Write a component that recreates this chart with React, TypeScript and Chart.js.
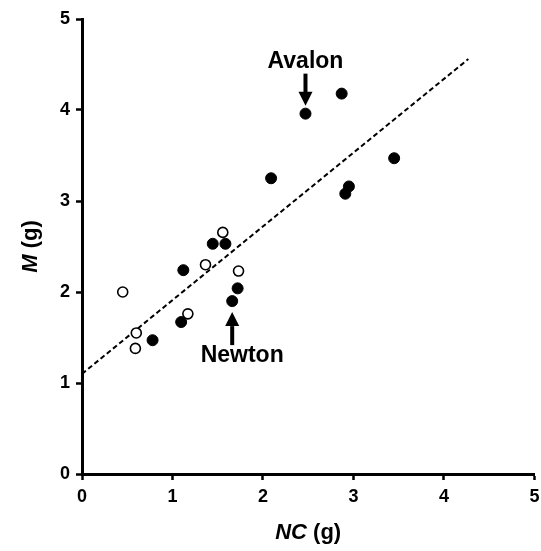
import React, { useEffect, useRef } from "react";
import { Chart, registerables } from "chart.js";

Chart.register(...registerables);

// Filled circles (NC, M)
const filledX = [2.47, 2.87, 3.45, 2.09, 2.95, 2.91, 1.445, 1.585, 1.12, 1.72, 1.66, 1.096, 0.78];
const filledY = [3.96, 4.18, 3.47, 3.25, 3.16, 3.08, 2.53, 2.53, 2.24, 2.04, 1.90, 1.67, 1.47];
// Open circles (NC, M)
const openX = [1.556, 1.365, 1.73, 0.45, 1.17, 0.60, 0.59];
const openY = [2.655, 2.30, 2.23, 2.0, 1.76, 1.55, 1.38];
// Regression line end points
const fitX = [0, 4.27];
const fitY = [1.1, 4.56];

const xTicks = [0, 1, 2, 3, 4, 5];
const yTicks = [0, 1, 2, 3, 4, 5];

const FONT = "'Liberation Sans', Arial, sans-serif";

function drawArrow(ctx: CanvasRenderingContext2D, x: number, yFrom: number, yTip: number) {
  const dir = yTip > yFrom ? 1 : -1;
  const headLen = 14;
  const headHalf = 7;
  const baseY = yTip - dir * headLen;
  ctx.save();
  ctx.fillStyle = "#000";
  ctx.fillRect(x - 2, Math.min(yFrom, baseY), 4, Math.abs(baseY - yFrom) + 1);
  ctx.beginPath();
  ctx.moveTo(x - headHalf, baseY);
  ctx.lineTo(x + headHalf, baseY);
  ctx.lineTo(x, yTip);
  ctx.closePath();
  ctx.fill();
  ctx.restore();
}

function drawMixed(ctx: CanvasRenderingContext2D, parts: { t: string; italic: boolean }[], size: number) {
  let total = 0;
  const widths = parts.map((p) => {
    ctx.font = `${p.italic ? "italic " : ""}bold ${size}px ${FONT}`;
    const w = ctx.measureText(p.t).width;
    total += w;
    return w;
  });
  let x = -total / 2;
  parts.forEach((p, i) => {
    ctx.font = `${p.italic ? "italic " : ""}bold ${size}px ${FONT}`;
    ctx.fillText(p.t, x, 0);
    x += widths[i];
  });
}

const annotationPlugin = {
  id: "annotations",
  afterDraw(chart: any) {
    const ctx: CanvasRenderingContext2D = chart.ctx;
    const xs = chart.scales.x;
    const ys = chart.scales.y;
    const area = chart.chartArea;
    ctx.save();
    ctx.fillStyle = "#000";
    ctx.textBaseline = "middle";
    ctx.textAlign = "left";

    // x title
    ctx.save();
    ctx.translate((area.left + area.right) / 2, 533);
    drawMixed(ctx, [{ t: "NC", italic: true }, { t: " (g)", italic: false }], 22);
    ctx.restore();

    // y title
    ctx.save();
    ctx.translate(31, (area.top + area.bottom) / 2);
    ctx.rotate(-Math.PI / 2);
    drawMixed(ctx, [{ t: "M", italic: true }, { t: " (g)", italic: false }], 22);
    ctx.restore();

    // Avalon
    const ax = xs.getPixelForValue(filledX[0]);
    const ay = ys.getPixelForValue(filledY[0]);
    ctx.font = `bold 23px ${FONT}`;
    ctx.textAlign = "center";
    ctx.textBaseline = "alphabetic";
    ctx.fillText("Avalon", ax, ay - 46);
    drawArrow(ctx, ax, ay - 40, ay - 8);

    // Newton
    const nx = xs.getPixelForValue(filledX[10]);
    const ny = ys.getPixelForValue(filledY[10]);
    ctx.fillText("Newton", nx + 10, ny + 61);
    drawArrow(ctx, nx, ny + 43, ny + 11);
    ctx.restore();
  },
};

export default function App() {
  const ref = useRef<HTMLCanvasElement>(null);
  useEffect(() => {
    if (!ref.current) return;
    const chart = new Chart(ref.current, {
      type: "scatter",
      data: {
        datasets: [
          {
            label: "filled",
            data: filledX.map((x, i) => ({ x, y: filledY[i] })),
            backgroundColor: "#000",
            borderColor: "#000",
            pointRadius: 5.5,
            borderWidth: 1,
            order: 1,
          },
          {
            label: "open",
            data: openX.map((x, i) => ({ x, y: openY[i] })),
            backgroundColor: "#fff",
            borderColor: "#000",
            pointRadius: 5,
            borderWidth: 1.6,
            order: 2,
          },
          {
            label: "fit",
            data: fitX.map((x, i) => ({ x, y: fitY[i] })),
            showLine: true,
            borderColor: "#000",
            borderWidth: 2,
            borderDash: [5, 3],
            pointRadius: 0,
            order: 3,
          } as any,
        ],
      },
      options: {
        responsive: false,
        animation: false,
        layout: { padding: { left: 0, top: 19, right: 6, bottom: 0 } },
        plugins: { legend: { display: false }, tooltip: { enabled: false } },
        scales: {
          x: {
            type: "linear",
            min: 0,
            max: 5,
            afterBuildTicks: (s: any) => {
              s.ticks = xTicks.map((v) => ({ value: v }));
            },
            afterFit: (s: any) => {
              s.height = 77;
              s.paddingLeft = 0;
              s.paddingRight = 0;
            },
            ticks: {
              color: "#000",
              font: { family: FONT, weight: "bold", size: 18 },
              padding: 6,
            },
            grid: { drawOnChartArea: false, tickLength: 6, tickWidth: 2.5, color: "#000" },
            border: { width: 3, color: "#000" },
          },
          y: {
            type: "linear",
            min: 0,
            max: 5,
            afterBuildTicks: (s: any) => {
              s.ticks = yTicks.map((v) => ({ value: v }));
            },
            afterFit: (s: any) => {
              s.width = 82;
              s.paddingTop = 0;
              s.paddingBottom = 0;
            },
            ticks: {
              color: "#000",
              font: { family: FONT, weight: "bold", size: 18 },
              padding: 6,
            },
            grid: { drawOnChartArea: false, tickLength: 6, tickWidth: 2.5, color: "#000" },
            border: { width: 3, color: "#000" },
          },
        },
      },
      plugins: [annotationPlugin],
    });
    return () => chart.destroy();
  }, []);
  return (
    <div style={{ position: "absolute", left: 0, top: 0, width: 541, height: 551, background: "#fff" }}>
      <canvas ref={ref} width={541} height={551} style={{ width: 541, height: 551 }} />
    </div>
  );
}
